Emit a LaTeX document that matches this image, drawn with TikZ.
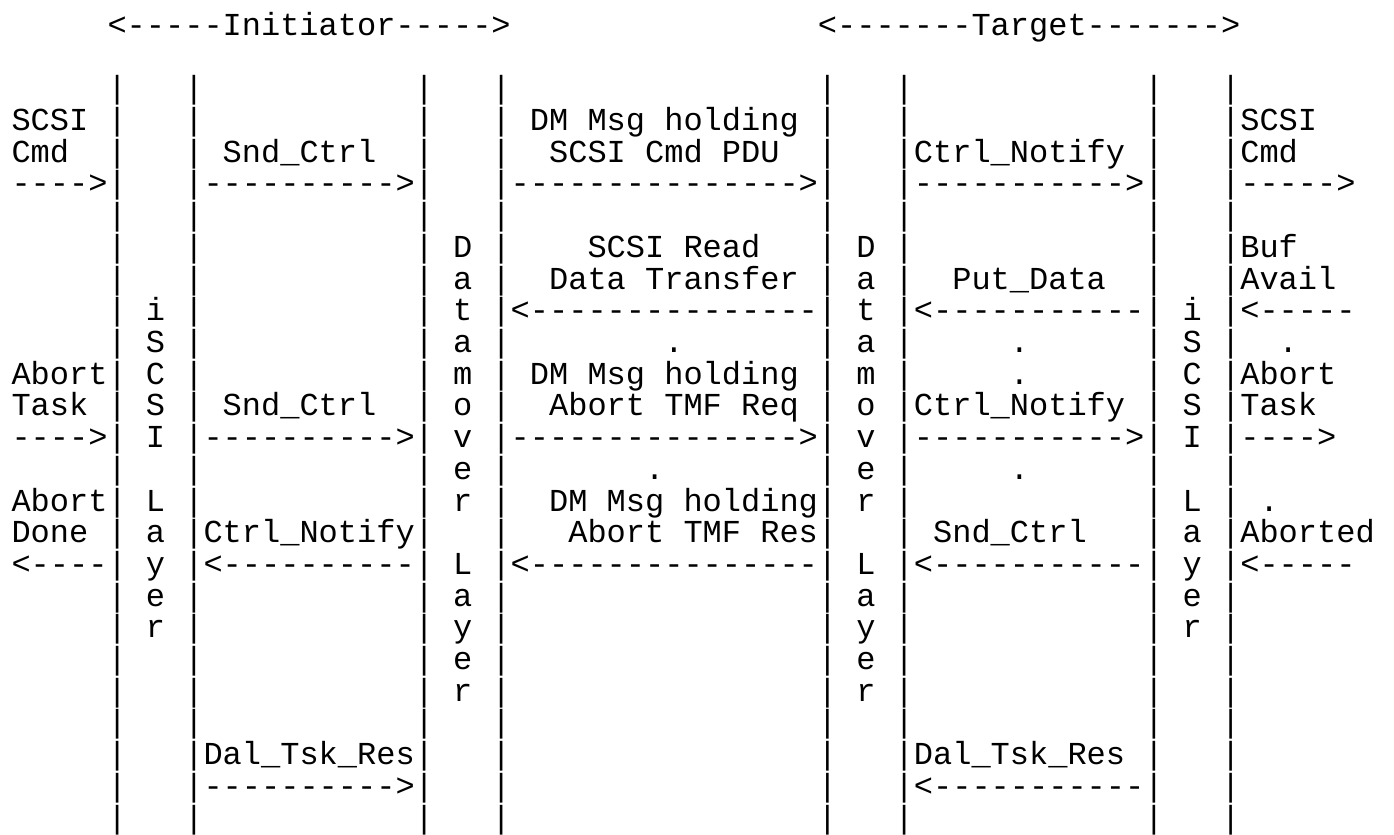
\documentclass[tikz,border=0pt]{standalone}
\usepackage{fontspec}
\setmonofont{Liberation Mono}
\begin{document}
\begin{tikzpicture}[x=9.6pt, y=-15.85pt, every node/.style={anchor=base west, inner sep=0pt, outer sep=0pt, font=\ttfamily\fontsize{16}{16}\selectfont}]
    \fill[white] (-5.75pt, 17.75pt) rectangle (691.25pt, -398.75pt);
    \node (ini) at (5, 0) {<-----Initiator----->};
    \node (tgt) at (42, 0) {<-------Target------->};
    \foreach \col in {5, 9, 21, 25, 42, 46, 59, 63}
      \foreach \row in {2, ..., 25}
        \node (bar-\col-\row) at (\col, \row) {|};
    \foreach \ch [count=\row from 9] in {i, S, C, S, I} {
      \node (iscsi-i-\row) at (7, \row) {\ch};
      \node (iscsi-t-\row) at (61, \row) {\ch};
    }
    \foreach \ch [count=\row from 15] in {L, a, y, e, r} {
      \node (iscsi-i-\row) at (7, \row) {\ch};
      \node (iscsi-t-\row) at (61, \row) {\ch};
    }
    \foreach \ch [count=\row from 7] in {D, a, t, a, m, o, v, e, r} {
      \node (dm-i-\row) at (23, \row) {\ch};
      \node (dm-t-\row) at (44, \row) {\ch};
    }
    \foreach \ch [count=\row from 17] in {L, a, y, e, r} {
      \node (dm-i-\row) at (23, \row) {\ch};
      \node (dm-t-\row) at (44, \row) {\ch};
    }
    \node (cmd1) at (0, 3) {SCSI};
    \node (cmd2) at (0, 4) {Cmd};
    \node (cmd3) at (0, 5) {---->};
    \node (snd1) at (11, 4) {Snd\_Ctrl};
    \node (snd1a) at (10, 5) {---------->};
    \node (pdu1) at (27, 3) {DM Msg holding};
    \node (pdu2) at (28, 4) {SCSI Cmd PDU};
    \node (pdu3) at (26, 5) {--------------->};
    \node (ntf1) at (47, 4) {Ctrl\_Notify};
    \node (ntf1a) at (47, 5) {----------->};
    \node (tcmd1) at (64, 3) {SCSI};
    \node (tcmd2) at (64, 4) {Cmd};
    \node (tcmd3) at (64, 5) {----->};
    \node (rd1) at (30, 7) {SCSI Read};
    \node (rd2) at (28, 8) {Data Transfer};
    \node (rd3) at (26, 9) {<---------------};
    \node (put1) at (49, 8) {Put\_Data};
    \node (put2) at (47, 9) {<-----------};
    \node (buf1) at (64, 7) {Buf};
    \node (buf2) at (64, 8) {Avail};
    \node (buf3) at (64, 9) {<-----};
    \node (dot1) at (34, 10) {.};
    \node (dot2) at (52, 10) {.};
    \node (dot3) at (66, 10) {.};
    \node (dot4) at (52, 11) {.};
    \node (abt1) at (0, 11) {Abort};
    \node (abt2) at (0, 12) {Task};
    \node (abt3) at (0, 13) {---->};
    \node (snd2) at (11, 12) {Snd\_Ctrl};
    \node (snd2a) at (10, 13) {---------->};
    \node (req1) at (27, 11) {DM Msg holding};
    \node (req2) at (28, 12) {Abort TMF Req};
    \node (req3) at (26, 13) {--------------->};
    \node (ntf2) at (47, 12) {Ctrl\_Notify};
    \node (ntf2a) at (47, 13) {----------->};
    \node (tabt1) at (64, 11) {Abort};
    \node (tabt2) at (64, 12) {Task};
    \node (tabt3) at (64, 13) {---->};
    \node (dot5) at (33, 14) {.};
    \node (dot6) at (52, 14) {.};
    \node (dot7) at (65, 15) {.};
    \node (done1) at (0, 15) {Abort};
    \node (done2) at (0, 16) {Done};
    \node (done3) at (0, 17) {<----};
    \node (ntf3) at (10, 16) {Ctrl\_Notify};
    \node (ntf3a) at (10, 17) {<----------};
    \node (res1) at (28, 15) {DM Msg holding};
    \node (res2) at (29, 16) {Abort TMF Res};
    \node (res3) at (26, 17) {<---------------};
    \node (snd3) at (48, 16) {Snd\_Ctrl};
    \node (snd3a) at (47, 17) {<-----------};
    \node (tdone1) at (64, 16) {Aborted};
    \node (tdone2) at (64, 17) {<-----};
    \node (dal1) at (10, 23) {Dal\_Tsk\_Res};
    \node (dal1a) at (10, 24) {---------->};
    \node (dal2) at (47, 23) {Dal\_Tsk\_Res};
    \node (dal2a) at (47, 24) {<-----------};
\end{tikzpicture}
\end{document}
